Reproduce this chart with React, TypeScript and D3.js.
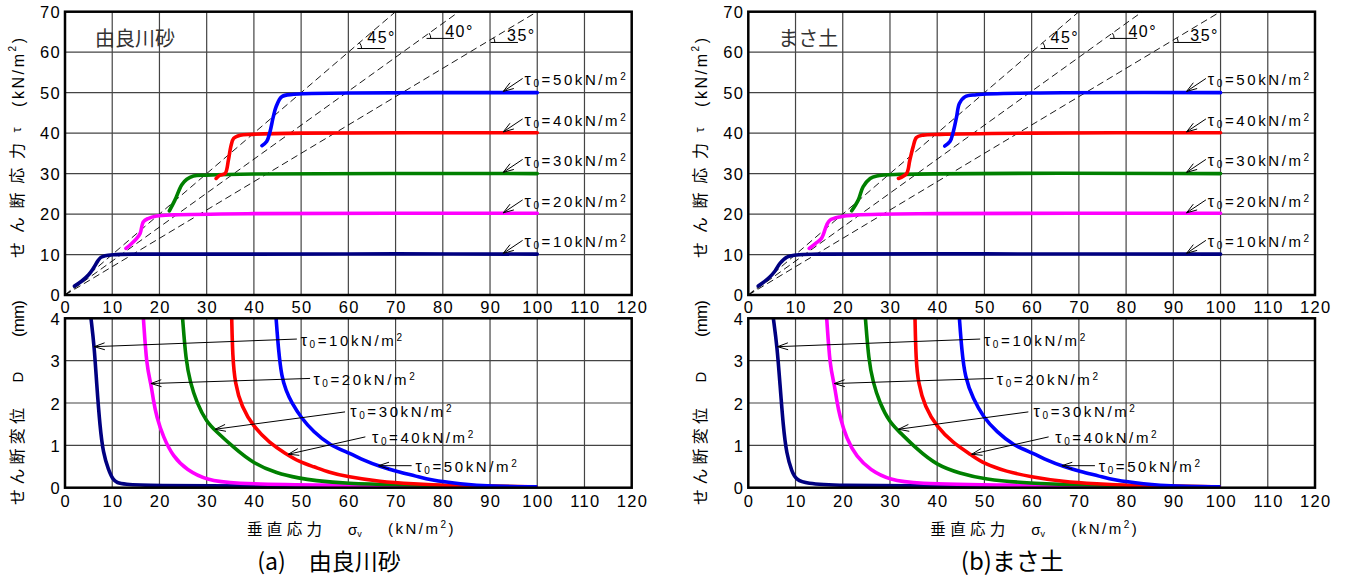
import * as d3 from "d3";

// ---------- DATA ----------
const SIGMA_TICKS = d3.range(0, 121, 10);
const TAU_TICKS = d3.range(0, 71, 10);
const DISP_TICKS = [0, 1, 2, 3, 4];
const TAU0 = [10, 20, 30, 40, 50];
const SERIES_COLORS = ["#000080", "#ff00ff", "#008000", "#ff0000", "#0000ff"];
const FRICTION_ANGLES = [45, 40, 35];

type Pt = [number, number];

// (a) 由良川砂 : [σv, τ]
const yuraTau10: Pt[] = [[2, 2.2], [3.5, 3.4], [5, 5], [6, 6.6], [7, 8.5], [7.6, 9.3], [8.5, 9.7], [10.2, 9.95], [15, 10.1], [40, 10.1], [70, 10.15], [100, 10.1]];
const yuraTau20: Pt[] = [[12.9, 11.5], [14, 12.6], [15.2, 14], [15.9, 15.2], [16.6, 18.1], [17.6, 18.9], [19.4, 19.5], [23, 19.8], [40, 20.1], [100, 20.2]];
const yuraTau30: Pt[] = [[22.1, 20.8], [23.3, 23.5], [24.7, 27.2], [25.8, 28.6], [27.2, 29.4], [30, 29.6], [40, 29.9], [100, 30]];
const yuraTau40: Pt[] = [[32, 28.8], [32.8, 29.6], [33.9, 30], [34.6, 33.3], [35.1, 36.6], [35.7, 38.7], [37.1, 39.5], [39.6, 39.7], [50, 40], [100, 40.1]];
const yuraTau50: Pt[] = [[41.7, 36.9], [42.7, 37.9], [43.4, 40.3], [44.1, 44], [44.7, 46.5], [45.9, 49], [48.4, 49.6], [60, 49.9], [100, 50]];

// (a) 由良川砂 : [σv, D]
const yuraDisp10: Pt[] = [[5.5, 4], [6.2, 3.33], [6.7, 2.46], [7.4, 1.44], [8.1, 0.81], [9.2, 0.42], [10.2, 0.18], [11, 0.12], [12.4, 0.08], [18, 0.05], [40, 0.04], [70, 0.03], [100, 0.02]];
const yuraDisp20: Pt[] = [[16.6, 4], [17.3, 2.85], [18.2, 2.46], [18.7, 2.07], [19.4, 1.67], [20.8, 1.2], [22.9, 0.73], [25.8, 0.42], [30, 0.18], [35.7, 0.1], [50, 0.06], [100, 0.02]];
const yuraDisp30: Pt[] = [[24.9, 4], [25.6, 3], [26.5, 2.5], [27.9, 2], [30, 1.55], [32, 1.33], [35.7, 0.95], [39.9, 0.57], [44.8, 0.34], [49.8, 0.22], [52.6, 0.17], [59.7, 0.1], [70, 0.07], [85, 0.04], [100, 0.02]];
const yuraDisp40: Pt[] = [[35.3, 4], [35.5, 3.1], [36, 2.46], [37.4, 1.91], [39.9, 1.44], [43.4, 1.05], [46.5, 0.82], [49.8, 0.6], [52.6, 0.5], [56, 0.36], [59.7, 0.26], [66.7, 0.14], [73.8, 0.09], [80.9, 0.05], [90, 0.03], [100, 0.02]];
const yuraDisp50: Pt[] = [[44.7, 4], [45.2, 3.25], [45.9, 2.6], [46.8, 2.3], [48, 2], [50.1, 1.64], [52.6, 1.32], [56.1, 1], [60.4, 0.81], [63.2, 0.65], [66.7, 0.5], [70.3, 0.38], [74.5, 0.27], [77.3, 0.18], [83.7, 0.09], [90, 0.03], [100, 0.02]];

// (b) まさ土 : [σv, τ]
const masaTau10: Pt[] = [[2.1, 2.2], [3.4, 3.3], [4.6, 4.5], [5.7, 6], [6.7, 7.8], [8.1, 9.3], [10.2, 9.9], [15, 10.1], [50, 10.15], [100, 10.1]];
const masaTau20: Pt[] = [[12.9, 11.5], [14.2, 12.7], [15.5, 14], [16.6, 17.3], [17.3, 18.5], [19.4, 19.3], [22.9, 19.75], [40, 20.1], [100, 20.2]];
const masaTau30: Pt[] = [[21.9, 20.8], [23.3, 23.5], [24.3, 26.7], [25.8, 28.8], [27.2, 29.4], [32, 29.8], [100, 30]];
const masaTau40: Pt[] = [[31.8, 28.8], [33.5, 30], [34.2, 33.3], [34.9, 36.6], [35.6, 38.9], [37, 39.5], [40.6, 39.7], [60, 40], [100, 40.1]];
const masaTau50: Pt[] = [[41.6, 36.8], [42.7, 37.9], [43.4, 40.3], [44.1, 44], [44.7, 47.3], [45.9, 49], [48.3, 49.5], [60, 49.9], [100, 50]];

// (b) まさ土 : [σv, D]
const masaDisp10: Pt[] = [[5.3, 4], [6.1, 3.33], [6.7, 2.46], [7.4, 1.44], [8.1, 0.8], [9.2, 0.38], [10.2, 0.18], [12.4, 0.1], [18, 0.05], [40, 0.04], [70, 0.03], [100, 0.02]];
const masaDisp20: Pt[] = [[16.6, 4], [17.3, 2.85], [18.2, 2.46], [18.7, 2.07], [19.4, 1.67], [20.8, 1.16], [22.9, 0.73], [25.8, 0.42], [30, 0.18], [35.7, 0.1], [50, 0.06], [100, 0.02]];
const masaDisp30: Pt[] = [[24.8, 4], [25.5, 3], [26.4, 2.5], [27.8, 2], [30, 1.53], [32, 1.32], [35.6, 0.92], [39.9, 0.53], [44.8, 0.34], [49.8, 0.2], [59.7, 0.1], [70, 0.07], [85, 0.04], [100, 0.02]];
const masaDisp40: Pt[] = [[35.3, 4], [35.5, 3.02], [36, 2.46], [37.4, 1.91], [39.9, 1.44], [43.4, 1.05], [47.3, 0.77], [49.8, 0.57], [54.7, 0.38], [59.7, 0.26], [66.7, 0.14], [73.8, 0.09], [80.9, 0.05], [90, 0.03], [100, 0.02]];
const masaDisp50: Pt[] = [[44.7, 4], [45.2, 3.25], [45.9, 2.6], [47.6, 2.1], [49.8, 1.66], [52.6, 1.32], [56.1, 1], [60.4, 0.81], [63.2, 0.65], [66.7, 0.5], [70.3, 0.38], [74.5, 0.27], [77.3, 0.18], [83.7, 0.09], [90, 0.03], [100, 0.02]];

// friction angle annotations (σ, τ in data units)
const angleLineTau = [60.9, 63.4, 62.4];
const angleTextSigma = [64.0, 80.5, 93.6];
const angleTextTau = [62.2, 63.8, 62.8];

// τ0 annotations, top panel
const tauLabelTextSigma = 97.3;
const tauLabelTailSigma = 96.9;
const tauLabelTipSigma = 92.8;

// τ0 annotations, bottom panel
const dispLabelText: Pt[] = [[49.9, 3.34], [52.6, 2.42], [60.4, 1.66], [65, 1.06], [74.2, 0.36]];
const dispLabelTail: Pt[] = [[49.1, 3.51], [51.9, 2.58], [59.3, 1.79], [63.6, 1.2], [73.4, 0.52]];
const dispLabelTip: Pt[] = [[6.2, 3.33], [18.2, 2.46], [31.8, 1.38], [47.3, 0.79], [66.4, 0.52]];

const PANELS = [
  { left: 65, name: "由良川砂", caption: "(a)　由良川砂", capSize: 23, tau: [yuraTau10, yuraTau20, yuraTau30, yuraTau40, yuraTau50], disp: [yuraDisp10, yuraDisp20, yuraDisp30, yuraDisp40, yuraDisp50] },
  { left: 748.3, name: "まさ土", caption: "(b)まさ土", capSize: 24, tau: [masaTau10, masaTau20, masaTau30, masaTau40, masaTau50], disp: [masaDisp10, masaDisp20, masaDisp30, masaDisp40, masaDisp50] },
];

// ---------- LAYOUT ----------
const W = 1345, H = 578;
const PLOT_W = 566.7;
const TOP = { y0: 295, y1: 11.7 };
const BOT = { y0: 487.7, y1: 318.3 };
const NUM_FONT = "'Liberation Sans', Arial, sans-serif";
const JP_FONT = "'Noto Sans CJK JP', sans-serif";

function Arrow({ tip, tail }: { tip: Pt; tail: Pt }) {
  const a = Math.atan2(tail[1] - tip[1], tail[0] - tip[0]);
  const L = 11, spread = 0.32;
  const b1: Pt = [tip[0] + L * Math.cos(a + spread), tip[1] + L * Math.sin(a + spread)];
  const b2: Pt = [tip[0] + L * Math.cos(a - spread), tip[1] + L * Math.sin(a - spread)];
  return (
    <g stroke="#000" strokeWidth={1} fill="none">
      <line x1={tail[0]} y1={tail[1]} x2={tip[0]} y2={tip[1]} />
      <polyline points={`${b1[0]},${b1[1]} ${tip[0]},${tip[1]} ${b2[0]},${b2[1]}`} />
    </g>
  );
}

function TauLabel({ x, y, t }: { x: number; y: number; t: number }) {
  return (
    <text x={x} y={y} fontFamily={NUM_FONT} fontSize={15} style={{ letterSpacing: "2.6px" }} fill="#000">
      <tspan fontSize={16}>τ</tspan>
      <tspan fontSize={10} dy={2}>0</tspan>
      <tspan dy={-2}>{`=${t}kN/m`}</tspan>
      <tspan fontSize={10} dy={-5}>2</tspan>
    </text>
  );
}

function Panel({ p, idx }: { p: (typeof PANELS)[number]; idx: number }) {
  const x = d3.scaleLinear().domain([0, 120]).range([p.left, p.left + PLOT_W]);
  const yT = d3.scaleLinear().domain([0, 70]).range([TOP.y0, TOP.y1]);
  const yB = d3.scaleLinear().domain([0, 4]).range([BOT.y0, BOT.y1]);
  const lineT = d3.line<Pt>().x(d => x(d[0])).y(d => yT(d[1])).curve(d3.curveCatmullRom.alpha(0.5));
  const lineB = d3.line<Pt>().x(d => x(d[0])).y(d => yB(d[1])).curve(d3.curveBasis);
  const clipT = `clipT${idx}`, clipB = `clipB${idx}`;
  const rad = (deg: number) => (deg * Math.PI) / 180;

  return (
    <g>
      <defs>
        <clipPath id={clipT}><rect x={x(0)} y={yT(70)} width={PLOT_W} height={yT(0) - yT(70)} /></clipPath>
        <clipPath id={clipB}><rect x={x(0)} y={yB(4)} width={PLOT_W} height={yB(0) - yB(4)} /></clipPath>
      </defs>

      {/* grid */}
      <g stroke="#444" strokeWidth={1.2}>
        {SIGMA_TICKS.slice(1, -1).map(s => (
          <g key={s}>
            <line x1={x(s)} x2={x(s)} y1={yT(0)} y2={yT(70)} />
            <line x1={x(s)} x2={x(s)} y1={yB(0)} y2={yB(4)} />
          </g>
        ))}
        {TAU_TICKS.slice(1, -1).map(t => <line key={t} x1={x(0)} x2={x(120)} y1={yT(t)} y2={yT(t)} />)}
        {DISP_TICKS.slice(1, -1).map(t => <line key={t} x1={x(0)} x2={x(120)} y1={yB(t)} y2={yB(t)} />)}
      </g>

      {/* friction angle lines */}
      <g clipPath={`url(#${clipT})`} stroke="#000" strokeWidth={0.9} strokeDasharray="7,4" fill="none">
        {FRICTION_ANGLES.map(a => {
          const tan = Math.tan(rad(a));
          return <line key={a} x1={x(0)} y1={yT(0)} x2={x(70 / tan)} y2={yT(70)} />;
        })}
      </g>
      {FRICTION_ANGLES.map((a, i) => {
        const tan = Math.tan(rad(a));
        const tau = angleLineTau[i];
        const sx = tau / tan;
        const cx = x(sx), cy = yT(tau);
        const phi = Math.atan2(yT(0) - yT(tan * 10), x(10) - x(0));
        const r = 9;
        return (
          <g key={a}>
            <line x1={x(sx + 1)} x2={x(sx + 6.8)} y1={cy} y2={cy} stroke="#000" strokeWidth={1} />
            <path d={`M${cx + r},${cy} A${r},${r} 0 0 0 ${cx + r * Math.cos(phi)},${cy - r * Math.sin(phi)}`} stroke="#000" strokeWidth={1} fill="none" />
            <text x={x(angleTextSigma[i])} y={yT(angleTextTau[i])} fontFamily={NUM_FONT} fontSize={16} style={{ letterSpacing: "1.5px" }}>{`${a}°`}</text>
          </g>
        );
      })}

      {/* series */}
      <g clipPath={`url(#${clipT})`} fill="none" strokeWidth={3.6} strokeLinejoin="round" strokeLinecap="round">
        {p.tau.map((s, i) => <path key={i} d={lineT(s) || ""} stroke={SERIES_COLORS[i]} />)}
      </g>
      <g clipPath={`url(#${clipB})`} fill="none" strokeWidth={3.6} strokeLinejoin="round">
        {p.disp.map((s, i) => <path key={i} d={lineB(s) || ""} stroke={SERIES_COLORS[i]} />)}
      </g>

      {/* frames */}
      <rect x={x(0)} y={yT(70)} width={PLOT_W} height={yT(0) - yT(70)} fill="none" stroke="#000" strokeWidth={2.5} />
      <rect x={x(0)} y={yB(4)} width={PLOT_W} height={yB(0) - yB(4)} fill="none" stroke="#000" strokeWidth={2.5} />

      {/* τ0 labels, top */}
      {TAU0.map(t => (
        <g key={t}>
          <Arrow tip={[x(tauLabelTipSigma), yT(t + 0.3)]} tail={[x(tauLabelTailSigma), yT(t + 3.5)]} />
          <TauLabel x={x(tauLabelTextSigma)} y={yT(t + 1.85)} t={t} />
        </g>
      ))}

      {/* τ0 labels, bottom */}
      {TAU0.map((t, i) => (
        <g key={t}>
          <Arrow tip={[x(dispLabelTip[i][0]), yB(dispLabelTip[i][1])]} tail={[x(dispLabelTail[i][0]), yB(dispLabelTail[i][1])]} />
          <TauLabel x={x(dispLabelText[i][0])} y={yB(dispLabelText[i][1])} t={t} />
        </g>
      ))}

      {/* tick labels */}
      <g fontFamily={NUM_FONT} fontSize={16.5} fill="#000" style={{ letterSpacing: "1.3px" }}>
        {TAU_TICKS.map(t => <text key={t} x={x(0) - 4} y={yT(t) + 6.3} textAnchor="end">{t}</text>)}
        {DISP_TICKS.map(t => <text key={t} x={x(0) - 4} y={yB(t) + 6.5} textAnchor="end">{t}</text>)}
        {SIGMA_TICKS.map(s => (
          <g key={s}>
            <text x={x(s) + 0.8} y={312.8} textAnchor="middle">{s}</text>
            <text x={x(s) + 0.8} y={506.7} textAnchor="middle">{s}</text>
          </g>
        ))}
      </g>

      {/* sample name */}
      <text x={x(0) + 30} y={46} fontFamily={JP_FONT} fontSize={20} fill="#333">{p.name}</text>

      {/* y titles */}
      <g transform={`translate(${p.left - 49},0) rotate(-90)`} fontFamily={JP_FONT} fontSize={16} fill="#000" dominantBaseline="central">
        <text x={-258} y={0} textLength={115} lengthAdjust="spacing">せん断応力</text>
        <text x={-130} y={0} textAnchor="middle" fontFamily={NUM_FONT} fontSize={13}>τ</text>
        <text x={-107} y={2} fontFamily={NUM_FONT} textLength={69} lengthAdjust="spacing">(kN/m<tspan fontSize={10} dy={-6}>2</tspan><tspan dy={6}>)</tspan></text>
        <text x={-505} y={0} textLength={97} lengthAdjust="spacing">せん断変位</text>
        <text x={-377} y={1} textAnchor="middle" fontFamily={NUM_FONT} fontSize={15}>D</text>
        <text x={-337} y={2} fontFamily={NUM_FONT} fontSize={17} textLength={37} lengthAdjust="spacing">(mm)</text>
      </g>

      {/* x title */}
      <g fill="#000">
        <text x={p.left + 182} y={535} fontFamily={JP_FONT} fontSize={15.5} textLength={75} lengthAdjust="spacing">垂直応力</text>
        <text x={p.left + 283} y={535} fontFamily={NUM_FONT} fontSize={15}>σ<tspan fontSize={9} dy={2}>v</tspan></text>
        <text x={p.left + 323} y={534} fontFamily={NUM_FONT} fontSize={15} style={{ letterSpacing: "2.5px" }}>(kN/m<tspan fontSize={10} dy={-6}>2</tspan><tspan dy={6}>)</tspan></text>
      </g>

      {/* caption */}
      <text x={p.left + 264} y={570} textAnchor="middle" fontFamily={JP_FONT} fontSize={p.capSize} fill="#000">{p.caption}</text>
    </g>
  );
}

export default function App() {
  return (
    <svg width={W} height={H} style={{ position: "absolute", left: 0, top: 0, background: "#fff" }}>
      <rect width={W} height={H} fill="#fff" />
      {PANELS.map((p, i) => <Panel key={i} p={p} idx={i} />)}
    </svg>
  );
}
